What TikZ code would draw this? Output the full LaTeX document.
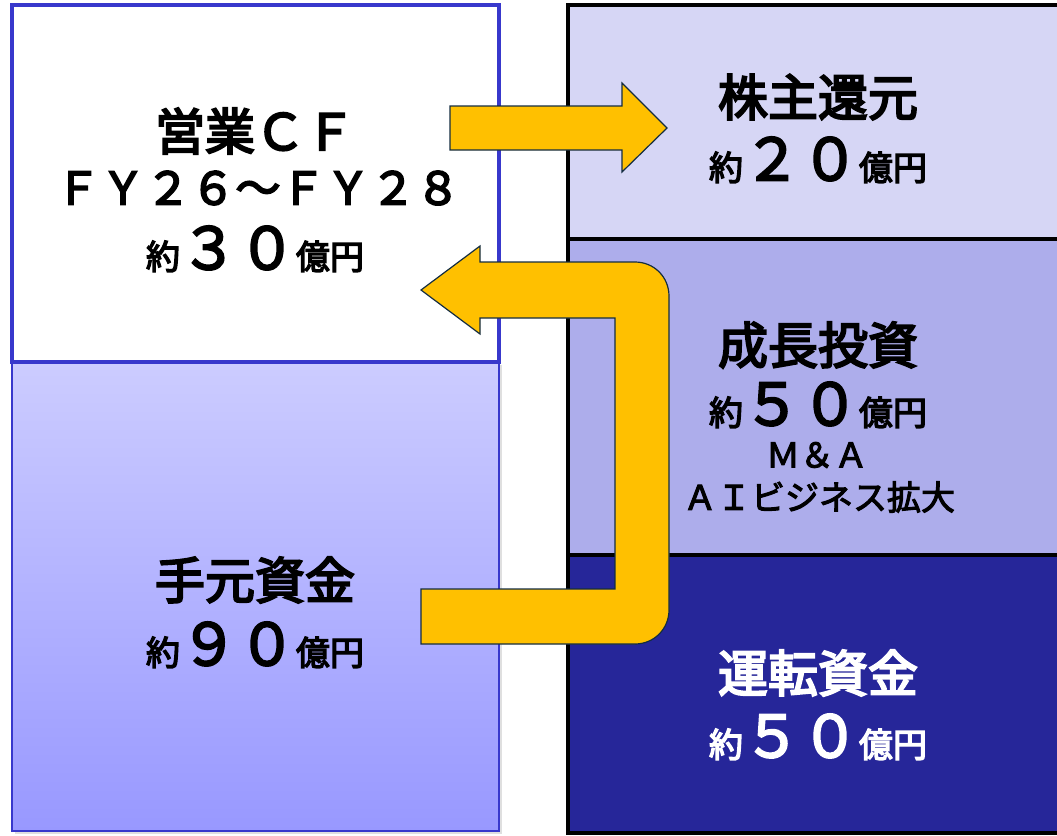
\documentclass[tikz,border=0pt]{standalone}
\usepackage{fontspec}
\setmainfont{Noto Sans CJK JP}
\newfontfamily\jpttl{Noto Sans CJK JP}[FakeBold=4]
\newfontfamily\jpfy{Noto Sans CJK JP}[FakeBold=4]
\newfontfamily\jpdig{Noto Sans CJK JP}[FakeBold=3.5]
\newfontfamily\jpsml{Noto Sans CJK JP}[FakeBold=4]
\newfontfamily\jpsub{Noto Sans CJK JP}[FakeBold=3]
\usetikzlibrary{shadows}
\definecolor{rboxa}{RGB}{214,214,245}
\definecolor{rboxb}{RGB}{173,173,235}
\definecolor{rboxc}{RGB}{38,38,153}
\definecolor{bluebd}{RGB}{56,56,204}
\definecolor{gradtop}{RGB}{204,204,255}
\definecolor{gradbot}{RGB}{152,152,255}
\definecolor{arrfill}{RGB}{255,192,0}
\definecolor{arrline}{RGB}{20,45,65}
\tikzset{
  rbox/.style={draw=black, line width=4pt, inner sep=0pt, outer sep=0pt, minimum width=507pt},
  ttl/.style={inner sep=0pt, font=\jpttl\fontsize{50}{54}\selectfont},
  amt/.style={inner sep=0pt},
  sub/.style={inner sep=0pt, font=\jpsub\fontsize{34}{38}\selectfont},
  blockarrow/.style={fill=arrfill, draw=arrline, line width=1.2pt, line join=miter}
}
\newcommand{\smallj}[1]{{\jpsml\fontsize{34}{40}\selectfont #1}}
\newcommand{\bigd}[1]{{\jpdig\fontsize{58}{60}\selectfont #1}}
\begin{document}
\begin{tikzpicture}[x=1pt,y=-1pt]
\useasboundingbox (0,0) rectangle (1057,835);
\clip (0,0) rectangle (1057,835);
% right column
\node[rbox, fill=rboxa, minimum height=234pt] (ra) at (821.5,122) {};
\node[rbox, fill=rboxb, minimum height=316pt] (rb) at (821.5,397) {};
\node[rbox, fill=rboxc, minimum height=278pt] (rc) at (821.5,694) {};
% left column
\node[draw=bluebd, line width=1.4pt, top color=gradtop, bottom color=gradbot,
      minimum width=487pt, minimum height=469pt, inner sep=0pt, outer sep=0pt,
      drop shadow={shadow xshift=3pt, shadow yshift=-3pt, opacity=0.25}] (lb) at (255.5,596.5) {};
\node[draw=bluebd, line width=3.5pt, fill=white, minimum width=487pt, minimum height=357pt,
      inner sep=0pt, outer sep=0pt] (la) at (255.5,183.5) {};
% texts left
\node[ttl] (t1) at (255,131) {営業ＣＦ};
\node[amt, font=\jpfy\fontsize{45}{48}\selectfont] (t2) at (258,188) {ＦＹ２６～ＦＹ２８};
\node[amt] (t3) at (255,249) {\smallj{約}\bigd{３０}\smallj{億円}};
\node[ttl] (t4) at (255,580) {手元資金};
\node[amt] (t5) at (255,645) {\smallj{約}\bigd{９０}\smallj{億円}};
% texts right
\node[ttl] (t6) at (818,97) {株主還元};
\node[amt] (t7) at (818,160) {\smallj{約}\bigd{２０}\smallj{億円}};
\node[ttl] (t8) at (818,345) {成長投資};
\node[amt] (t9) at (818,405) {\smallj{約}\bigd{５０}\smallj{億円}};
\node[sub] (t10) at (817,455) {Ｍ＆Ａ};
\node[sub] (t11) at (819,497) {ＡＩビジネス拡大};
\node[ttl, text=white] (t12) at (818,673) {運転資金};
\node[amt, text=white] (t13) at (818,737) {\smallj{約}\bigd{５０}\smallj{億円}};
% arrows
\draw[blockarrow] (450,106) -- (622,106) -- (622,83) -- (667,128) -- (622,172)
   -- (622,150) -- (450,150) -- cycle;
\draw[blockarrow] (421,290) -- (480,246) -- (480,262) -- (635,262)
   .. controls (654,262) and (669,277) .. (669,296) -- (669,610)
   .. controls (669,629) and (654,644) .. (635,644) -- (421,644) -- (421,589)
   -- (615,589) -- (615,318) -- (480,318) -- (480,334) -- cycle;
\end{tikzpicture}
\end{document}
